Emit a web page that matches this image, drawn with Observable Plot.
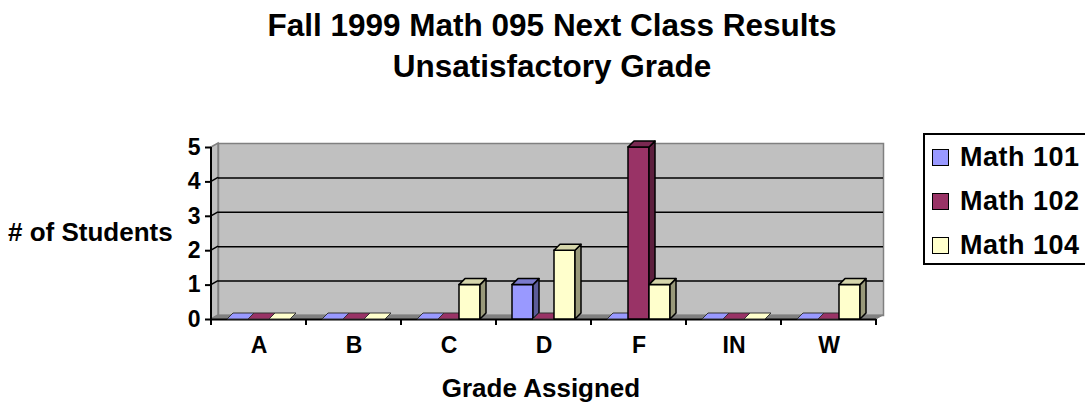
<!DOCTYPE html>
<html>
<head>
<meta charset="utf-8">
<script src="https://cdn.jsdelivr.net/npm/d3@7"></script>
<script src="https://cdn.jsdelivr.net/npm/@observablehq/plot@0.6"></script>
<style>
  html, body { margin: 0; padding: 0; background: #fff; overflow: hidden; }
  #wrap { position: relative; width: 1085px; height: 404px; overflow: hidden;
          font-family: "Liberation Sans", Arial, sans-serif; font-weight: bold; color: #000; }
  #chart { position: absolute; left: 0; top: 0; }
  #title { position: absolute; left: 19px; top: 5px; width: 1066px; text-align: center;
           font-size: 31.5px; line-height: 41px; }
  .lbl { position: absolute; font-size: 26px; line-height: 26px; white-space: nowrap; }
  #ylabel { left: 8px; top: 219px; }
  #xlabel { left: 0; width: 1082px; text-align: center; top: 375px; }
  #legend { position: absolute; left: 923px; top: 133px; width: 180px; height: 128px;
            border: 2px solid #000; background: #fff; }
  .sw { position: absolute; left: 7px; width: 17px; height: 17px; box-sizing: border-box;
        border: 1.5px solid #000; }
  .lt { position: absolute; left: 35px; font-size: 27px; line-height: 27px; letter-spacing: 0.5px; white-space: nowrap; }
</style>
</head>
<body>
<div id="wrap">
  <div id="chart"></div>
  <div id="title">Fall 1999 Math 095 Next Class Results<br>Unsatisfactory Grade</div>
  <div id="ylabel" class="lbl"># of Students</div>
  <div id="xlabel" class="lbl">Grade Assigned</div>
  <div id="legend"></div>
</div>
<script>
// ---- data ----
const grades = ["A", "B", "C", "D", "F", "IN", "W"];
const seriesNames = ["Math 101", "Math 102", "Math 104"];
const math101 = [0, 0, 0, 1, 0, 0, 0];
const math102 = [0, 0, 0, 0, 5, 0, 0];
const math104 = [0, 0, 1, 2, 1, 0, 1];
const yTicks = [0, 1, 2, 3, 4, 5];

// ---- styles ----
const frontColors = ["#9999FF", "#993366", "#FFFFCC"];
const sideColors  = ["#5C5C99", "#5C1F3D", "#99997A"];
const topColors   = ["#7A7ACC", "#7A2952", "#D6D6AB"];
const barW = 21, clusterPad = 16;
const depthX = 6, depthY = -6;      // bar depth offset
const wallX = 7, wallY = -4;        // back wall offset

const seriesValues = [math101, math102, math104];
const rows = seriesValues.map((vals, s) =>
  grades.map((g, i) => ({grade: g, series: seriesNames[s], value: vals[i]})));

const chart = Plot.plot({
  width: 1085,
  height: 404,
  marginLeft: 211,
  marginRight: 209,
  marginTop: 147,
  marginBottom: 85,
  style: "font-family: 'Liberation Sans', Arial, sans-serif; font-size: 23px; font-weight: bold; color: #000; background: transparent; overflow: visible;",
  x: {domain: grades, padding: 0},
  y: {domain: [0, 5]},
  marks: [
    Plot.frame({fill: "#C0C0C0", stroke: "#808080", strokeWidth: 1.5, dx: wallX, dy: wallY}),
    Plot.ruleY([1, 2, 3, 4], {stroke: "#000", strokeWidth: 1.5, dx: wallX, dy: wallY}),
    Plot.ruleY([0], {stroke: "#000", strokeWidth: 2}),
    ...rows.map((r, s) => Plot.barY(r, {
      x: "grade", y: "value", fill: frontColors[s], stroke: "#000", strokeWidth: 1.5,
      insetLeft: clusterPad + s * barW, insetRight: clusterPad + (2 - s) * barW
    })),
    Plot.axisY({ticks: yTicks, tickSize: 6, tickPadding: 5, strokeWidth: 2, fontSize: 23, fontWeight: "bold",
                tickFormat: d => String(d), label: null}),
    Plot.axisX({tickSize: 0, tickPadding: 17, fontSize: 23, fontWeight: "bold", label: null})
  ]
});
document.getElementById("chart").appendChild(chart);

// ---- 3D decoration derived from Plot's scales ----
const xs = chart.scale("x"), ys = chart.scale("y");
const bw = xs.bandwidth;
const X0 = xs.apply(grades[0]);
const X1 = xs.apply(grades[grades.length - 1]) + bw;
const Y0 = ys.apply(0), Y5 = ys.apply(5);
const svg = d3.select(chart);
const pts = a => a.map(p => p.join(",")).join(" ");

// walls (left wall + floor) after the back-wall frame
const frameG = chart.querySelector('g[aria-label="frame"]') || chart.querySelector('rect');
const walls = document.createElementNS("http://www.w3.org/2000/svg", "g");
frameG.after(walls);
const w = d3.select(walls);
w.append("polygon").attr("points", pts([[X0, Y5], [X0 + wallX, Y5 + wallY], [X0 + wallX, Y0 + wallY], [X0, Y0]]))
  .attr("fill", "#C0C0C0").attr("stroke", "#808080").attr("stroke-width", 1.5);
w.append("polygon").attr("points", pts([[X0, Y0], [X0 + wallX, Y0 + wallY], [X1 + wallX, Y0 + wallY], [X1, Y0]]))
  .attr("fill", "#808080").attr("stroke", "#808080").attr("stroke-width", 1);
[1, 2, 3, 4].forEach(v => {
  const yy = ys.apply(v);
  w.append("line").attr("x1", X0).attr("y1", yy).attr("x2", X0 + wallX).attr("y2", yy + wallY)
    .attr("stroke", "#000").attr("stroke-width", 1.5);
});

// bar sides and tops
const barGroups = chart.querySelectorAll('g[aria-label="bar"]');
barGroups.forEach((gEl, s) => {
  const g = d3.select(gEl);
  grades.forEach((gr, i) => {
    const v = seriesValues[s][i];
    const xl = xs.apply(gr) + clusterPad + s * barW;
    const xr = xl + barW;
    const yt = ys.apply(v), yb = ys.apply(0);
    if (yb - yt > 0.5) {
      g.append("polygon").attr("points", pts([[xr, yt], [xr + depthX, yt + depthY], [xr + depthX, yb + depthY], [xr, yb]]))
        .attr("fill", sideColors[s]).attr("stroke", "#000").attr("stroke-width", 1.5).attr("stroke-linejoin", "round");
    }
    g.append("polygon").attr("points", pts([[xl, yt], [xl + depthX, yt + depthY], [xr + depthX, yt + depthY], [xr, yt]]))
      .attr("fill", v > 0 ? topColors[s] : frontColors[s]).attr("stroke", v > 0 ? "#000" : "#333")
      .attr("stroke-width", v > 0 ? 1.5 : 1).attr("stroke-linejoin", "round");
  });
});

// front axis line and category boundary ticks
const ax = svg.append("g");
ax.append("line").attr("x1", X0).attr("x2", X0).attr("y1", Y5).attr("y2", Y0 + 6)
  .attr("stroke", "#000").attr("stroke-width", 2);
[...grades.map(g => xs.apply(g)), X1].forEach(xx => {
  ax.append("line").attr("x1", xx).attr("x2", xx).attr("y1", Y0).attr("y2", Y0 + 6)
    .attr("stroke", "#000").attr("stroke-width", 2);
});

// ---- legend ----
const legend = document.getElementById("legend");
seriesNames.forEach((name, s) => {
  const sw = document.createElement("div");
  sw.className = "sw";
  sw.style.top = (14 + s * 44) + "px";
  sw.style.background = frontColors[s];
  legend.appendChild(sw);
  const t = document.createElement("div");
  t.className = "lt";
  t.style.top = (9 + s * 44) + "px";
  t.textContent = name;
  legend.appendChild(t);
});
</script>
</body>
</html>
